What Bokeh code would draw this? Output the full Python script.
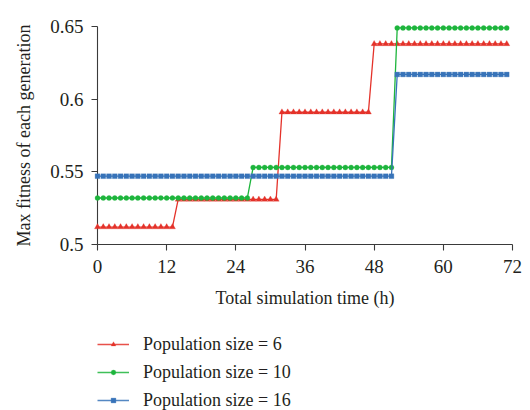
from bokeh.plotting import figure
from bokeh.models import Range1d, FixedTicker, Legend, LegendItem
from bokeh.layouts import column
from bokeh.embed import file_html
from bokeh.resources import INLINE

# ---- data ----
HOURS = [0, 1, 2, 3, 4, 5, 6, 7, 8, 9, 10, 11,
         12, 13, 14, 15, 16, 17, 18, 19, 20, 21, 22, 23,
         24, 25, 26, 27, 28, 29, 30, 31, 32, 33, 34, 35,
         36, 37, 38, 39, 40, 41, 42, 43, 44, 45, 46, 47,
         48, 49, 50, 51, 52, 53, 54, 55, 56, 57, 58, 59,
         60, 61, 62, 63, 64, 65, 66, 67, 68, 69, 70, 71]

FIT_POP6 = [0.512, 0.512, 0.512, 0.512, 0.512, 0.512, 0.512, 0.512, 0.512, 0.512, 0.512, 0.512,
            0.512, 0.512, 0.531, 0.531, 0.531, 0.531, 0.531, 0.531, 0.531, 0.531, 0.531, 0.531,
            0.531, 0.531, 0.531, 0.531, 0.531, 0.531, 0.531, 0.531, 0.591, 0.591, 0.591, 0.591,
            0.591, 0.591, 0.591, 0.591, 0.591, 0.591, 0.591, 0.591, 0.591, 0.591, 0.591, 0.591,
            0.638, 0.638, 0.638, 0.638, 0.638, 0.638, 0.638, 0.638, 0.638, 0.638, 0.638, 0.638,
            0.638, 0.638, 0.638, 0.638, 0.638, 0.638, 0.638, 0.638, 0.638, 0.638, 0.638, 0.638]

FIT_POP10 = [0.532, 0.532, 0.532, 0.532, 0.532, 0.532, 0.532, 0.532, 0.532, 0.532, 0.532, 0.532,
             0.532, 0.532, 0.532, 0.532, 0.532, 0.532, 0.532, 0.532, 0.532, 0.532, 0.532, 0.532,
             0.532, 0.532, 0.532, 0.553, 0.553, 0.553, 0.553, 0.553, 0.553, 0.553, 0.553, 0.553,
             0.553, 0.553, 0.553, 0.553, 0.553, 0.553, 0.553, 0.553, 0.553, 0.553, 0.553, 0.553,
             0.553, 0.553, 0.553, 0.553, 0.649, 0.649, 0.649, 0.649, 0.649, 0.649, 0.649, 0.649,
             0.649, 0.649, 0.649, 0.649, 0.649, 0.649, 0.649, 0.649, 0.649, 0.649, 0.649, 0.649]

FIT_POP16 = [0.547, 0.547, 0.547, 0.547, 0.547, 0.547, 0.547, 0.547, 0.547, 0.547, 0.547, 0.547,
             0.547, 0.547, 0.547, 0.547, 0.547, 0.547, 0.547, 0.547, 0.547, 0.547, 0.547, 0.547,
             0.547, 0.547, 0.547, 0.547, 0.547, 0.547, 0.547, 0.547, 0.547, 0.547, 0.547, 0.547,
             0.547, 0.547, 0.547, 0.547, 0.547, 0.547, 0.547, 0.547, 0.547, 0.547, 0.547, 0.547,
             0.547, 0.547, 0.547, 0.547, 0.617, 0.617, 0.617, 0.617, 0.617, 0.617, 0.617, 0.617,
             0.617, 0.617, 0.617, 0.617, 0.617, 0.617, 0.617, 0.617, 0.617, 0.617, 0.617, 0.617]

SERIES_LABELS = ["Population size = 6", "Population size = 10", "Population size = 16"]
X_TICKS = [0, 12, 24, 36, 48, 60, 72]
Y_TICKS = [0.5, 0.55, 0.6, 0.65]
Y_TICK_LABELS = ["0.5", "0.55", "0.6", "0.65"]
X_LABEL = "Total simulation time (h)"
Y_LABEL = "Max fitness of each generation"

# ---- styling ----
COLORS = ["#e4322a", "#1db53c", "#3773b9"]
MARKERS = ["triangle", "circle", "square"]
MARKER_SIZES = [6, 5, 4.8]
FONT = "Liberation Serif"
TEXT_COLOR = "#231f20"
AXIS_COLOR = "#3a3a3a"

p = figure(width=530, height=320, output_backend="svg", toolbar_location=None,
           x_range=Range1d(0, 72), y_range=Range1d(0.5, 0.65),
           min_border_left=97, min_border_right=18, min_border_top=26,
           min_border_bottom=76)
p.outline_line_color = None
p.xgrid.visible = False
p.ygrid.visible = False

series = [FIT_POP6, FIT_POP10, FIT_POP16]
for vals, col, mk, ms in zip(series, COLORS, MARKERS, MARKER_SIZES):
    p.line(HOURS, vals, line_color=col, line_width=1.3, level="overlay")
    p.scatter(HOURS, vals, marker=mk, size=ms, fill_color=col, line_color=col,
              line_width=0.3, level="overlay")

for ax in (p.xaxis[0], p.yaxis[0]):
    ax.axis_line_color = AXIS_COLOR
    ax.axis_line_width = 1.1
    ax.major_tick_line_color = AXIS_COLOR
    ax.major_tick_line_width = 1.1
    ax.major_tick_in = 0
    ax.major_tick_out = 6
    ax.minor_tick_line_color = None
    ax.major_label_text_font = FONT
    ax.major_label_text_font_size = "19px"
    ax.major_label_text_color = TEXT_COLOR
    ax.axis_label_text_font = FONT
    ax.axis_label_text_font_size = "18px"
    ax.axis_label_text_font_style = "normal"
    ax.axis_label_text_color = TEXT_COLOR

p.xaxis.ticker = FixedTicker(ticks=X_TICKS)
p.yaxis.ticker = FixedTicker(ticks=Y_TICKS)
p.yaxis.major_label_overrides = {t: s for t, s in zip(Y_TICKS, Y_TICK_LABELS)}
p.xaxis.major_label_standoff = 9
p.yaxis.major_label_standoff = 8
p.xaxis.axis_label = X_LABEL
p.yaxis.axis_label = Y_LABEL
p.xaxis.axis_label_standoff = 12
p.yaxis.axis_label_standoff = 13

# ---- legend in a second, axis-less figure below ----
# (same series drawn there, but its y range lies outside the data, so only
#  the legend swatches are visible)
p2 = figure(width=530, height=90, output_backend="svg", toolbar_location=None,
            x_range=Range1d(0, 72), y_range=Range1d(10, 11),
            min_border_left=97, min_border_right=18, min_border_top=0, min_border_bottom=0)
p2.axis.visible = False
p2.grid.visible = False
p2.outline_line_color = None

items = []
for vals, col, mk, ms, lab in zip(series, COLORS, MARKERS, MARKER_SIZES, SERIES_LABELS):
    lr = p2.line(HOURS, vals, line_color=col, line_width=1.5, line_alpha=0.85)
    sr = p2.scatter(HOURS, vals, marker=mk, size=ms, fill_color=col, line_color=col,
                    line_width=0.3)
    items.append(LegendItem(label=lab, renderers=[lr, sr]))

legend = Legend(items=items, location=(0, -1), orientation="vertical",
                label_text_font=FONT, label_text_font_size="18px",
                label_text_color=TEXT_COLOR, glyph_width=32, glyph_height=12,
                label_height=22, label_standoff=14, spacing=6, padding=0, margin=0,
                background_fill_alpha=0, border_line_alpha=0)
p2.add_layout(legend, "center")

layout = column(p, p2, spacing=0)
open("out.html", "w").write(file_html(layout, INLINE))
